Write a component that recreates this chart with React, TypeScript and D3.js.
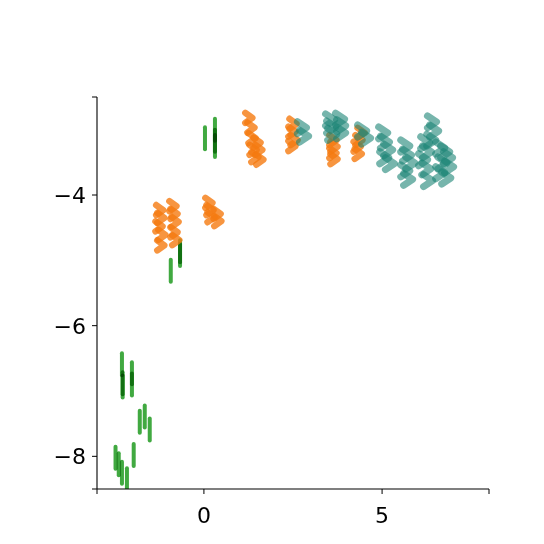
import React from "react";
import * as d3 from "d3";

const greenX = [-2.48, -2.39, -2.3, -2.16, -2.3, -2.28, -2.28, -2.02, -2.02, -1.97, -1.8, -1.66, -1.52, -0.93, -0.67, -0.67, 0.03, 0.31, 0.31, 0.31];
const greenY = [-8.02, -8.12, -8.25, -8.35, -6.59, -6.88, -6.93, -6.73, -6.9, -7.98, -7.47, -7.39, -7.59, -5.16, -4.86, -4.92, -3.13, -3.0, -3.17, -3.25];

const orangeX = [
  -1.24, -1.21, -1.26, -1.18, -1.21,
  -0.87, -0.84, -0.81, -0.84, -0.79,
  0.14, 0.17, 0.2, 0.37, 0.39,
  1.26, 1.32, 1.35, 1.49, 1.38, 1.54, 1.43, 1.57,
  2.5, 2.47, 2.53, 2.47,
  3.62, 3.65, 3.62, 3.65,
  4.41, 4.35, 4.3, 4.33,
];
const orangeY = [
  -4.23, -4.35, -4.48, -4.61, -4.77,
  -4.17, -4.29, -4.41, -4.57, -4.69,
  -4.12, -4.23, -4.34, -4.29, -4.4,
  -2.82, -2.97, -3.13, -3.2, -3.31, -3.31, -3.42, -3.46,
  -2.91, -3.03, -3.16, -3.25,
  -3.16, -3.26, -3.36, -3.45,
  -3.05, -3.16, -3.26, -3.37,
];

const tealX = [
  3.54, 3.82, 3.57, 3.85, 3.6, 3.85,
  2.75, 2.81,
  4.44, 4.55,
  5.03, 5.08, 5.17, 5.06, 5.22,
  5.65, 5.7, 5.79, 5.65, 5.73,
  6.21, 6.26, 6.15, 6.24, 6.29,
  6.4, 6.46, 6.38,
  6.63, 6.77, 6.85, 6.69, 6.88, 6.63, 6.8,
];
const tealY = [
  -2.85, -2.84, -2.96, -2.94, -3.07, -3.05,
  -2.97, -3.1,
  -3.02, -3.13,
  -3.05, -3.19, -3.31, -3.43, -3.52,
  -3.25, -3.39, -3.51, -3.63, -3.76,
  -3.2, -3.34, -3.46, -3.6, -3.78,
  -2.88, -3.02, -3.16,
  -3.28, -3.34, -3.43, -3.51, -3.57, -3.66, -3.74,
];

const xTicks = [-3, 0, 5, 8];
const xLabeled = [0, 5];
const yTicks = [-2.5, -4, -6, -8, -8.5];
const yLabeled = [-4, -6, -8];

const W = 544;
const H = 544;
const L = 97, R = 489, T = 97, B = 489;

export default function App() {
  const x = d3.scaleLinear().domain([-3, 8]).range([L, R]);
  const y = d3.scaleLinear().domain([-8.5, -2.5]).range([B, T]);
  const fmt = (v: number) => (v < 0 ? "\u2212" + Math.abs(v) : String(v));
  const caret = (w: number, h: number) => {
    const p = d3.path();
    p.moveTo(-w / 2, -h / 2);
    p.lineTo(w / 2, 0);
    p.lineTo(-w / 2, h / 2);
    return p.toString();
  };
  const orangePath = caret(7, 10);
  const tealPath = caret(9, 12);
  const font = "DejaVu Sans, sans-serif";

  return (
    <svg width={W} height={H} style={{ position: "absolute", left: 0, top: 0 }}>
      <rect x={0} y={0} width={W} height={H} fill="#fff" />
      <defs>
        <clipPath id="ax">
          <rect x={L} y={T} width={R - L} height={B - T} />
        </clipPath>
      </defs>
      <g clipPath="url(#ax)">
        <g style={{ isolation: "isolate" }}>
          {greenX.map((v, i) => (
            <line
              key={"g" + i}
              x1={x(v)}
              x2={x(v)}
              y1={y(greenY[i]) - 11}
              y2={y(greenY[i]) + 11}
              stroke="#2ca02c"
              strokeWidth={4}
              strokeLinecap="round"
              strokeOpacity={0.9}
              style={{ mixBlendMode: "multiply" }}
            />
          ))}
          {orangeX.map((v, i) => (
            <path
              key={"o" + i}
              d={orangePath}
              transform={`translate(${x(v)},${y(orangeY[i])})`}
              fill="none"
              stroke="#f57a10"
              strokeWidth={6.5}
              strokeLinejoin="round"
              strokeLinecap="round"
              strokeOpacity={0.8}
            />
          ))}
          {tealX.map((v, i) => (
            <path
              key={"t" + i}
              d={tealPath}
              transform={`translate(${x(v)},${y(tealY[i])})`}
              fill="none"
              stroke="#1a8475"
              strokeWidth={7}
              strokeLinejoin="round"
              strokeLinecap="round"
              strokeOpacity={0.6}
            />
          ))}
        </g>
      </g>
      <line x1={L} x2={L} y1={T} y2={B} stroke="#000" strokeWidth={1.1} />
      <line x1={L} x2={R} y1={B} y2={B} stroke="#000" strokeWidth={1.1} />
      {xTicks.map((t) => (
        <line key={"xt" + t} x1={x(t)} x2={x(t)} y1={B} y2={B + 5} stroke="#000" strokeWidth={1} />
      ))}
      {xLabeled.map((t) => (
        <text key={"xl" + t} x={x(t)} y={523} textAnchor="middle" fontFamily={font} fontSize={22} fill="#000">
          {fmt(t)}
        </text>
      ))}
      {yTicks.map((t) => (
        <line key={"yt" + t} x1={L - 5} x2={L} y1={y(t)} y2={y(t)} stroke="#000" strokeWidth={1} />
      ))}
      {yLabeled.map((t) => (
        <text key={"yl" + t} x={86} y={y(t) + 8} textAnchor="end" fontFamily={font} fontSize={22} fill="#000">
          {fmt(t)}
        </text>
      ))}
    </svg>
  );
}
